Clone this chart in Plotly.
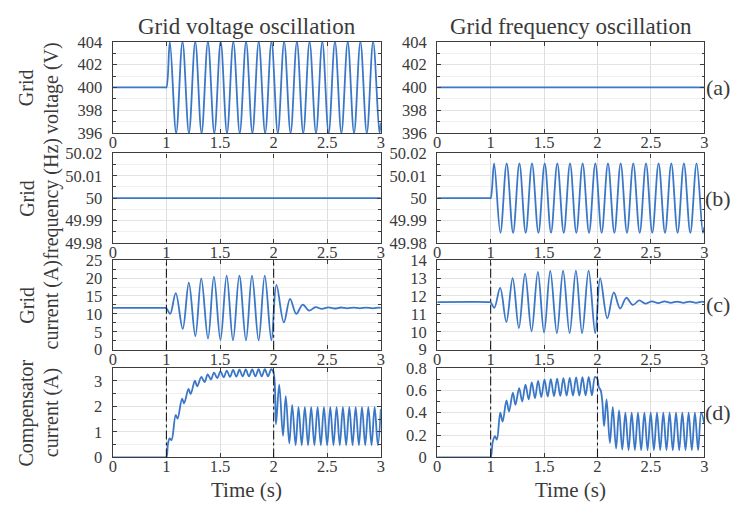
import plotly.graph_objects as go
from plotly.subplots import make_subplots

# ---------------- text ----------------
col_titles = ["Grid voltage oscillation", "Grid frequency oscillation"]
row_labels_top = ["Grid", "Grid", "Grid", "Compensator"]
row_labels_bottom = ["voltage (V)", "frequency (Hz)", "current (A)", "current (A)"]
panel_tags = ["(a)", "(b)", "(c)", "(d)"]
x_title = "Time (s)"
x_tickvals = [0.5, 1, 1.5, 2, 2.5, 3]
x_ticktext = ["0", "1", "1.5", "2", "2.5", "3"]
event_times = [1, 2]

# ---------------- data ----------------
# (a) grid voltage, voltage-oscillation case
t_volt_osc = [0.5, 0.99, 1.0,
              1.032, 1.091, 1.150, 1.210, 1.269, 1.328, 1.387, 1.447, 1.506, 1.565,
              1.624, 1.684, 1.743, 1.802, 1.861, 1.921, 1.980, 2.039, 2.098, 2.158,
              2.217, 2.276, 2.335, 2.395, 2.454, 2.513, 2.572, 2.632, 2.691, 2.750,
              2.809, 2.869, 2.928, 2.987, 3.0]
v_volt_osc = [400, 400, 400,
              404, 396, 404, 396, 404, 396, 404, 396, 404, 396,
              404, 396, 404, 396, 404, 396, 404, 396, 404, 396,
              404, 396, 404, 396, 404, 396, 404, 396, 404, 396,
              404, 396, 404, 396, 396.9]
# (a) grid voltage, frequency-oscillation case
t_volt_flat = [0.5, 3.0]
v_volt_flat = [400, 400]

# (b) grid frequency
t_freq_flat = [0.5, 3.0]
v_freq_flat = [50, 50]
t_freq_osc = t_volt_osc
v_freq_osc = [50, 50, 50,
              50.0155, 49.9845, 50.0155, 49.9845, 50.0155, 49.9845, 50.0155, 49.9845, 50.0155, 49.9845,
              50.0155, 49.9845, 50.0155, 49.9845, 50.0155, 49.9845, 50.0155, 49.9845, 50.0155, 49.9845,
              50.0155, 49.9845, 50.0155, 49.9845, 50.0155, 49.9845, 50.0155, 49.9845, 50.0155, 49.9845,
              50.0155, 49.9845, 50.0155, 49.9845, 49.987]

# (c) grid current
t_igrid_v = [0.5, 0.99, 1.0, 1.035, 1.087, 1.152, 1.209, 1.270, 1.325, 1.388, 1.443,
             1.504, 1.562, 1.621, 1.680, 1.742, 1.798, 1.860, 1.917, 1.979, 2.026,
             2.095, 2.153, 2.211, 2.271, 2.331, 2.390, 2.449, 2.509, 2.568, 2.627,
             2.686, 2.745, 2.804, 2.863, 2.922, 2.981, 3.0]
v_igrid_v = [11.65, 11.65, 11.6, 10.0, 15.8, 5.8, 18.7, 3.8, 19.9, 3.1, 20.4,
             2.7, 20.7, 2.6, 20.7, 2.6, 20.7, 2.6, 20.7, 2.6, 18.1,
             7.6, 14.2, 10.0, 12.6, 10.9, 11.9, 11.4, 11.8, 11.5, 11.78,
             11.55, 11.75, 11.56, 11.75, 11.56, 11.75, 11.7]
t_igrid_f = [0.5, 0.99, 1.0, 1.034, 1.089, 1.147, 1.206, 1.264, 1.322, 1.383, 1.442,
             1.500, 1.558, 1.620, 1.678, 1.739, 1.798, 1.856, 1.917, 1.979, 2.025,
             2.092, 2.153, 2.212, 2.270, 2.331, 2.390, 2.448, 2.509, 2.568, 2.627,
             2.686, 2.745, 2.804, 2.863, 2.922, 2.981, 3.0]
v_igrid_f = [11.66, 11.66, 11.65, 11.34, 12.45, 10.55, 13.0, 10.2, 13.25, 10.03, 13.35,
             9.96, 13.4, 9.92, 13.42, 9.92, 13.42, 9.92, 13.42, 9.92, 13.0,
             10.75, 12.2, 11.3, 11.9, 11.5, 11.75, 11.57, 11.7, 11.6, 11.7,
             11.62, 11.69, 11.62, 11.69, 11.62, 11.69, 11.66]

# (d) compensator current
t_icomp_v = [0.5, 0.99, 1.0, 1.015, 1.030, 1.048, 1.086, 1.104, 1.146, 1.165, 1.206,
             1.226, 1.266, 1.287, 1.326, 1.356, 1.385, 1.415, 1.444, 1.474, 1.504,
             1.534, 1.563, 1.593, 1.622, 1.652, 1.681, 1.711, 1.740, 1.770, 1.800,
             1.830, 1.859, 1.889, 1.918, 1.948, 1.977, 2.0, 2.022, 2.052, 2.087,
             2.113, 2.146, 2.173, 2.205, 2.232, 2.262, 2.291, 2.321, 2.350, 2.380,
             2.410, 2.440, 2.469, 2.499, 2.528, 2.558, 2.587, 2.617, 2.646, 2.676,
             2.706, 2.736, 2.765, 2.795, 2.824, 2.854, 2.883, 2.913, 2.942, 2.972, 3.0]
v_icomp_v = [0, 0, 0, 0.55, 0.75, 0.68, 1.66, 1.52, 2.3, 2.12, 2.68,
             2.48, 3.0, 2.78, 3.15, 2.95, 3.25, 3.05, 3.32, 3.1, 3.37,
             3.13, 3.4, 3.15, 3.42, 3.16, 3.43, 3.17, 3.44, 3.17, 3.44,
             3.17, 3.45, 3.17, 3.45, 3.17, 3.45, 3.3, 1.3, 2.85, 0.85,
             2.4, 0.55, 2.05, 0.48, 1.97, 0.48, 1.97, 0.48, 1.97, 0.48,
             1.97, 0.48, 1.97, 0.48, 1.97, 0.48, 1.97, 0.48, 1.97, 0.48,
             1.97, 0.48, 1.97, 0.48, 1.97, 0.48, 1.97, 0.48, 1.97, 0.48, 1.9]
t_icomp_f = [0.5, 0.99, 1.0, 1.020, 1.040, 1.058, 1.090, 1.112, 1.148, 1.172, 1.208,
             1.232, 1.267, 1.295, 1.326, 1.356, 1.385, 1.415, 1.444, 1.474, 1.504,
             1.534, 1.563, 1.593, 1.622, 1.652, 1.681, 1.711, 1.740, 1.770, 1.800,
             1.830, 1.859, 1.889, 1.918, 1.948, 1.977, 2.0, 2.012, 2.030, 2.045,
             2.062, 2.085, 2.116, 2.143, 2.174, 2.202, 2.232, 2.261, 2.291, 2.320,
             2.350, 2.379, 2.409, 2.439, 2.469, 2.498, 2.528, 2.557, 2.587, 2.616,
             2.646, 2.675, 2.705, 2.735, 2.765, 2.794, 2.824, 2.853, 2.883, 2.912,
             2.942, 2.971, 3.0]
v_icomp_f = [0, 0, 0, 0.14, 0.19, 0.16, 0.40, 0.32, 0.51, 0.41, 0.58,
             0.47, 0.62, 0.50, 0.65, 0.52, 0.67, 0.53, 0.685, 0.54, 0.695,
             0.545, 0.70, 0.548, 0.705, 0.55, 0.71, 0.552, 0.712, 0.553, 0.715,
             0.554, 0.717, 0.555, 0.72, 0.555, 0.72, 0.70, 0.63, 0.60, 0.50,
             0.28, 0.52, 0.13, 0.45, 0.08, 0.42, 0.07, 0.40, 0.065, 0.40,
             0.065, 0.40, 0.065, 0.40, 0.065, 0.40, 0.065, 0.40, 0.065, 0.40,
             0.065, 0.40, 0.065, 0.40, 0.065, 0.40, 0.065, 0.40, 0.065, 0.40,
             0.065, 0.40, 0.30]

panels = [
    [(t_volt_osc, v_volt_osc), (t_volt_flat, v_volt_flat)],
    [(t_freq_flat, v_freq_flat), (t_freq_osc, v_freq_osc)],
    [(t_igrid_v, v_igrid_v), (t_igrid_f, v_igrid_f)],
    [(t_icomp_v, v_icomp_v), (t_icomp_f, v_icomp_f)],
]
# y-axis settings per panel: (range, tick0, dtick, minor dtick)
y_cfg = [
    [([396, 404], 396, 2, 1), ([396, 404], 396, 2, 1)],
    [([49.98, 50.02], 49.98, 0.01, 0.005), ([49.98, 50.02], 49.98, 0.01, 0.005)],
    [([0, 25], 0, 5, 2.5), ([9, 14], 9, 1, 0.5)],
    [([0, 3.5], 0, 1, 0.5), ([0, 0.8], 0, 0.2, 0.1)],
]

# ---------------- layout geometry ----------------
W, H = 737, 505
col_px = [(110, 381), (438, 708)]
row_px = [(34, 129), (150, 243), (261, 354), (373, 466)]

LINE = "#3a77c7"
FONT = "'Liberation Serif', 'DejaVu Serif', serif"
TXT = "#3a3a3a"
AX = "#3c3c3c"

fig = make_subplots(rows=4, cols=2)

for r in range(4):
    for c in range(2):
        t, v = panels[r][c]
        fig.add_trace(go.Scatter(x=t, y=v, mode="lines",
                                 line=dict(color=LINE, width=1.8, shape="spline", smoothing=1.0),
                                 showlegend=False, hoverinfo="skip"),
                      row=r + 1, col=c + 1)
        idx = r * 2 + c + 1
        xa = "xaxis" if idx == 1 else f"xaxis{idx}"
        ya = "yaxis" if idx == 1 else f"yaxis{idx}"
        x0, x1 = col_px[c]
        y0, y1 = row_px[r]
        rng, t0, dt, mdt = y_cfg[r][c]
        fig.layout[xa].update(
            domain=[x0 / W, x1 / W], range=[0.5, 3], tickmode="array",
            tickvals=x_tickvals, ticktext=x_ticktext,
            showgrid=True, gridcolor="#dedede", gridwidth=1,
            showline=True, linecolor=AX, linewidth=1.4, mirror="allticks",
            ticks="inside", ticklen=4, tickcolor=AX, zeroline=False,
            tickfont=dict(family=FONT, size=16.5, color=TXT), ticklabelstandoff=-6,
        )
        fig.layout[ya].update(
            domain=[1 - y1 / H, 1 - y0 / H], range=rng, tickmode="linear",
            tick0=t0, dtick=dt,
            minor=dict(tickmode="linear", tick0=t0, dtick=mdt, ticks="inside", ticklen=2.5,
                       tickcolor=AX, showgrid=True, gridcolor="#f0f0f0", gridwidth=1),
            showgrid=True, gridcolor="#e2e2e2", gridwidth=1,
            showline=True, linecolor=AX, linewidth=1.4, mirror="allticks",
            ticks="inside", ticklen=4, tickcolor=AX, zeroline=False,
            tickfont=dict(family=FONT, size=16.5, color=TXT), ticklabelstandoff=6,
        )
        if r >= 2:
            for et in event_times:
                fig.add_shape(type="line", x0=et, x1=et, y0=0, y1=1,
                              xref=xa.replace("axis", ""), yref=ya.replace("axis", "") + " domain",
                              line=dict(color="#1a1a1a", width=1.1, dash="dashdot"))

annotations = []
for c in range(2):
    xc = (col_px[c][0] + col_px[c][1]) / 2 / W
    annotations.append(dict(text=col_titles[c], x=xc, y=1 - 18 / H, xref="paper", yref="paper",
                            showarrow=False, xanchor="center", yanchor="middle",
                            font=dict(family=FONT, size=23, color=TXT)))
    annotations.append(dict(text=x_title, x=xc, y=1 - 500 / H, xref="paper", yref="paper",
                            showarrow=False, xanchor="center", yanchor="middle",
                            font=dict(family=FONT, size=21, color=TXT)))
for r in range(4):
    yc = 1 - (row_px[r][0] + row_px[r][1]) / 2 / H
    annotations.append(dict(text=row_labels_top[r], x=23 / W, y=yc, xref="paper", yref="paper",
                            showarrow=False, xanchor="center", yanchor="middle", textangle=-90,
                            font=dict(family=FONT, size=20, color=TXT)))
    annotations.append(dict(text=row_labels_bottom[r], x=48 / W, y=yc, xref="paper", yref="paper",
                            showarrow=False, xanchor="center", yanchor="middle", textangle=-90,
                            font=dict(family=FONT, size=20, color=TXT)))
    annotations.append(dict(text=panel_tags[r], x=722 / W, y=yc, xref="paper", yref="paper",
                            showarrow=False, xanchor="center", yanchor="middle",
                            font=dict(family=FONT, size=22, color=TXT)))

fig.update_layout(width=W, height=H, autosize=False,
                  margin=dict(l=0, r=0, t=0, b=0),
                  paper_bgcolor="white", plot_bgcolor="white",
                  font=dict(family=FONT, color=TXT),
                  annotations=annotations)

fig.write_html("out.html")
